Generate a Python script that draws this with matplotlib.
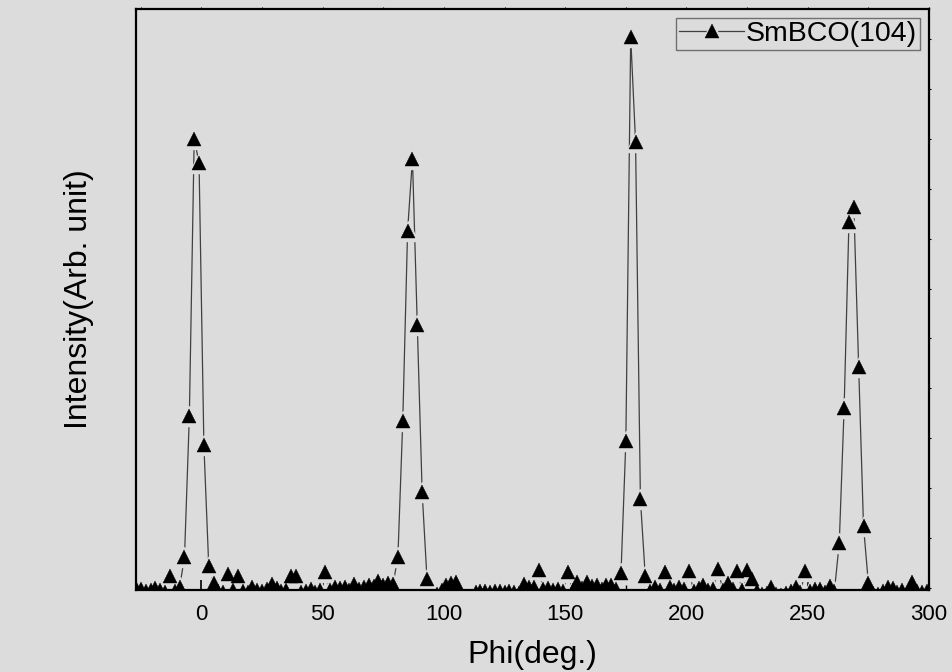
import numpy as np
import matplotlib.pyplot as plt
from matplotlib.ticker import MultipleLocator

# phi scan, 2 deg step
phi = np.arange(-27, 300, 2)
# intensity, arbitrary units
intensity = [
    0, -1, -3, -2, 0, -2, -4, 12, -3, 1,            # -27 .. -9
    31, 172, 450, 426, 143, 22, 5, -3, -4, 14,      # -7 .. 11
    -2, 12, -3, -4, 1, -2, -3, -1, 4, 0,            # 13 .. 31
    -3, -2, 12, 12, -4, -3, -1, -4, -2, 16,         # 33 .. 51
    -2, 1, 0, 1, -2, 4, -1, 1, 3, 2,                # 53 .. 71
    7, 3, 5, 4, 31, 167, 358, 430, 263, 96,         # 73 .. 91
    9, -8, -6, -2, 3, 5, 6, -9, -9, -8,             # 93 .. 111
    -4, -3, -3, -4, -3, -3, -4, -3, -4, -5,         # 113 .. 131
    4, 1, 1, 18, -1, 0, -2, -1, -3, 16,             # 133 .. 151
    -2, 6, 0, 6, 2, 3, -1, 3, 3, -1,                # 153 .. 171
    15, 147, 552, 447, 89, 12, -3, 1, -2, 16,       # 173 .. 191
    1, -2, 1, -1, 17, -3, 0, 3, -2, -1,             # 193 .. 211
    19, -2, 5, -1, 17, -2, 18, 9, -3, -6,           # 213 .. 231
    -5, 1, -6, -7, -5, -3, 1, -4, 17, -3,           # 233 .. 251
    -1, -1, -4, 2, -3, 45, 180, 367, 382, 221,      # 253 .. 271
    62, 5, -5, -6, -3, 1, 0, -4, -2, -5,            # 273 .. 291
    6, -3, -4, -3,                                  # 293 .. 299
]

bg = '#dcdcdc'
plt.rcParams['font.family'] = ['Liberation Sans', 'DejaVu Sans']

fig = plt.figure(figsize=(9.53, 6.72), dpi=100, facecolor=bg)
ax = fig.add_axes([0.1427, 0.122, 0.8321, 0.8646], facecolor=bg)

# line, then a background-coloured marker to open a gap, then the black marker
l1, = ax.plot(phi, intensity, color='#404040', linewidth=0.9, zorder=2)
l2, = ax.plot(phi, intensity, linestyle='none', marker='^', markersize=14,
              markerfacecolor=bg, markeredgecolor=bg, zorder=2.1)
l3, = ax.plot(phi, intensity, linestyle='none', marker='^', markersize=10.5,
              markerfacecolor='black', markeredgecolor='black',
              markeredgewidth=0.3, zorder=2.2)

ax.set_xlim(-27, 300)
ax.set_ylim(-2, 580)

ax.xaxis.set_major_locator(MultipleLocator(50))
ax.xaxis.set_minor_locator(MultipleLocator(25))
ax.yaxis.set_major_locator(MultipleLocator(100))
ax.yaxis.set_minor_locator(MultipleLocator(50))

ax.tick_params(axis='x', which='major', direction='in', length=7, width=1.2,
               labelsize=16, pad=10, top=False)
ax.tick_params(axis='x', which='minor', direction='in', length=3.5, width=1.0, top=False)
ax.tick_params(axis='y', which='both', left=False, labelleft=False,
               right=True, direction='out', length=1.5, width=0.8)

# small outward ticks along the top edge
sec = ax.secondary_xaxis('top')
sec.xaxis.set_major_locator(MultipleLocator(25))
sec.tick_params(direction='out', length=1.5, width=0.8, labeltop=False)
sec.spines['top'].set_visible(False)

for side in ['left', 'bottom', 'top', 'right']:
    ax.spines[side].set_linewidth(1.6)

ax.set_xlabel('Phi(deg.)', fontsize=23, labelpad=11)
ax.set_ylabel('Intensity(Arb. unit)', fontsize=23, labelpad=30)

leg = ax.legend([(l1, l2, l3)], ['SmBCO(104)'], loc='upper right', fontsize=20.5,
                frameon=True, fancybox=False, handlelength=2.3, handletextpad=0.05,
                borderpad=0.12, borderaxespad=0.3, facecolor=bg, edgecolor='#555555')
leg.get_frame().set_linewidth(1.0)

plt.savefig('out.png', dpi=100, facecolor=bg)
